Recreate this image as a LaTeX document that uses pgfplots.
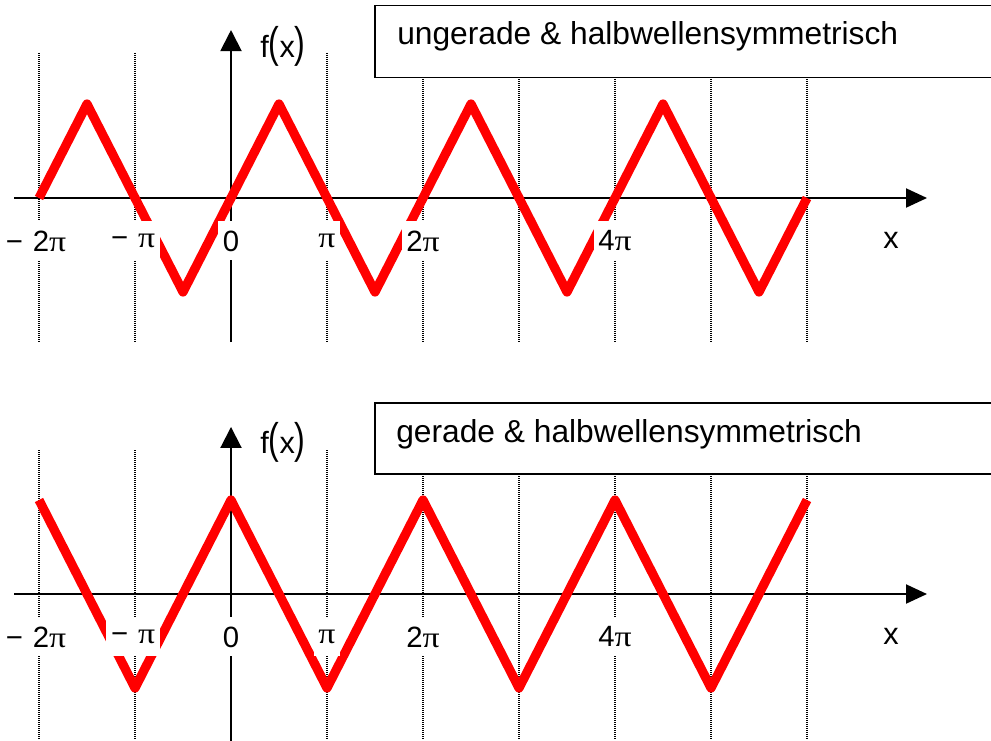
\documentclass[border=0pt]{standalone}
\usepackage{graphicx}
\usepackage{fontspec}
\setmainfont{Liberation Sans}
\newfontfamily\pifont{Liberation Serif}
\usepackage{pgfplots}
\pgfplotsset{compat=1.18}
\usetikzlibrary{arrows.meta}

\newcommand{\p}{{\pifont\scalebox{1.15}[1]{π}}}
\newcommand{\fx}{f\scalebox{1.05}[1.4]{(}x\scalebox{1.05}[1.4]{)}}

\pgfplotsset{
  panel/.style={
    x=72pt, y=70.5pt,
    xmin=-2.40625, xmax=7.91667,
    hide axis, clip=false, anchor=north west,
  },
}
\tikzset{
  axisline/.style={line width=1.5pt, black},
  gridline/.style={line width=1pt, black, dash pattern=on 0.75pt off 0.75pt},
  ticklab/.style={fill=white, inner xsep=3.5pt, inner ysep=0pt,
    minimum height=29.25pt, anchor=center,
    font=\fontsize{22pt}{26pt}\selectfont},
  biglab/.style={inner sep=0pt, font=\fontsize{23pt}{27pt}\selectfont},
  titlebox/.style={line width=1.2pt, black, fill=white},
  titletext/.style={anchor=base west, inner sep=0pt,
    font=\fontsize{23.8pt}{28pt}\selectfont},
  wave/.style={red, line width=6.9pt, line join=round, line cap=butt},
}

\begin{document}
\begin{tikzpicture}
\useasboundingbox (0pt,0pt) rectangle (743.25pt,-555pt);

% odd, half-wave symmetric triangle wave
\begin{axis}[panel, at={(0pt,0pt)}, ymin=-1.82979, ymax=2.10638]
  \foreach \k in {-2,-1,1,2,3,4,5,6}{
    \edef\tmp{\noexpand\draw[gridline] (\k,1.543) -- (\k,-1.532);}\tmp
  }
  \draw[axisline, -{Triangle[length=15.75pt,width=14.25pt]}] (-2.26,0) -- (7.25,0);
  \draw[axisline, -{Triangle[length=15.75pt,width=15.75pt]}] (0,-1.532) -- (0,1.787);
  \addplot[wave] coordinates {
    (-2,0) (-1.5,1) (-0.5,-1) (0.5,1) (1.5,-1) (2.5,1) (3.5,-1) (4.5,1) (5.5,-1) (6,0)
  };
  \node[ticklab] at (-2.03,-0.457) {−\,\,2\p};
  \node[ticklab] at (-1.02,-0.457) {−\,\,\p};
  \node[ticklab] at (0,-0.457) {0};
  \node[ticklab] at (1,-0.457) {\p};
  \node[ticklab] at (2,-0.457) {2\p};
  \node[ticklab] at (4,-0.457) {4\p};
  \node[biglab, anchor=base] at (6.875,-0.532) {x};
  \node[biglab, anchor=base west] at (0.302,1.5) {\fx};
  \draw[titlebox] (1.5,1.28) rectangle (7.95,2.046);
  \node[titletext] at (1.729,1.628) {ungerade \& halbwellensymmetrisch};
\end{axis}

% even, half-wave symmetric triangle wave
\begin{axis}[panel, at={(0pt,-277.5pt)}, ymin=-1.55319, ymax=2.38298]
  \foreach \k in {-2,-1,1,2,3,4,5,6}{
    \edef\tmp{\noexpand\draw[gridline] (\k,1.532) -- (\k,-1.553);}\tmp
  }
  \draw[axisline, -{Triangle[length=15.75pt,width=14.25pt]}] (-2.26,0) -- (7.25,0);
  \draw[axisline, -{Triangle[length=15.75pt,width=15.75pt]}] (0,-1.56) -- (0,1.777);
  \addplot[wave] coordinates {
    (-2,1) (-1,-1) (0,1) (1,-1) (2,1) (3,-1) (4,1) (5,-1) (6,1)
  };
  \node[ticklab] at (-2.03,-0.457) {−\,\,2\p};
  \node[ticklab] at (-1.02,-0.457) {−\,\,\p};
  \node[ticklab] at (0,-0.457) {0};
  \node[ticklab] at (1,-0.457) {\p};
  \node[ticklab] at (2,-0.457) {2\p};
  \node[ticklab] at (4,-0.457) {4\p};
  \node[biglab, anchor=base] at (6.875,-0.535) {x};
  \node[biglab, anchor=base west] at (0.302,1.5) {\fx};
  \draw[titlebox] (1.5,1.277) rectangle (7.95,2.032);
  \node[titletext] at (1.719,1.617) {gerade \& halbwellensymmetrisch};
\end{axis}
\end{tikzpicture}
\end{document}
